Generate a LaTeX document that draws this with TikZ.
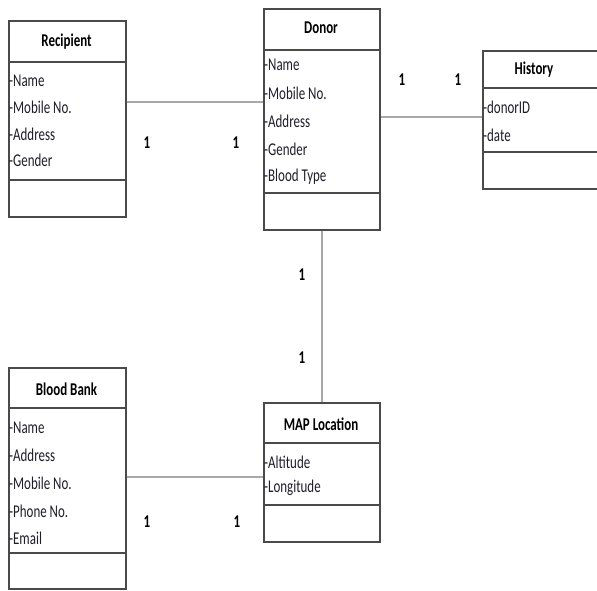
\documentclass[tikz,border=0pt]{standalone}
\usepackage{fontspec}
\setmainfont{Carlito}[FakeStretch=0.72]
\definecolor{boxline}{HTML}{4A4A4A}
\definecolor{linkline}{HTML}{A8A8A8}
\definecolor{attrtext}{HTML}{1E1E2A}
\tikzset{
  classbox/.style={draw=boxline, line width=1.6pt, anchor=north west, inner sep=0pt},
  divider/.style={boxline, line width=1.8pt},
  link/.style={linkline, line width=1.6pt},
  classname/.style={font=\fontsize{18}{20}\selectfont\bfseries, inner sep=0pt},
  attr/.style={font=\fontsize{18}{20}\selectfont, text=attrtext, anchor=west, inner sep=0pt},
  mult/.style={font=\fontsize{18}{20}\selectfont\bfseries, inner sep=0pt}
}
\begin{document}
\begin{tikzpicture}[x=1pt, y=-1pt]
\useasboundingbox (0, 0) rectangle (597, 590);

% Recipient
\node[classbox, minimum width=117pt, minimum height=196pt] (recipient) at (8, 20) {};
\node[classname] (recipient-t) at (66.5, 42) {Recipient};
\draw[divider] (8, 62) -- (125, 62);
\node[attr] (recipient-1) at (9, 81) {-Name};
\node[attr] (recipient-2) at (9, 107.5) {-Mobile No.};
\node[attr] (recipient-3) at (9, 134) {-Address};
\node[attr] (recipient-4) at (9, 160.5) {-Gender};
\draw[divider] (8, 180) -- (125, 180);

% Donor
\node[classbox, minimum width=116pt, minimum height=221pt] (donor) at (263, 8) {};
\node[classname] (donor-t) at (321, 28) {Donor};
\draw[divider] (263, 50) -- (379, 50);
\node[attr] (donor-1) at (264, 65) {-Name};
\node[attr] (donor-2) at (264, 93) {-Mobile No.};
\node[attr] (donor-3) at (264, 121) {-Address};
\node[attr] (donor-4) at (264, 149) {-Gender};
\node[attr] (donor-5) at (264, 177) {-Blood Type};
\draw[divider] (263, 193) -- (379, 193);

% History
\node[classbox, minimum width=130pt, minimum height=138pt] (history) at (482, 50) {};
\node[classname] (history-t) at (534, 70) {History};
\draw[divider] (482, 88) -- (612, 88);
\node[attr] (history-1) at (483, 107) {-donorID};
\node[attr] (history-2) at (483, 135) {-date};
\draw[divider] (482, 152) -- (612, 152);

% Blood Bank
\node[classbox, minimum width=117pt, minimum height=221pt] (bank) at (8, 367) {};
\node[classname] (bank-t) at (66.5, 389) {Blood Bank};
\draw[divider] (8, 408) -- (125, 408);
\node[attr] (bank-1) at (9, 428) {-Name};
\node[attr] (bank-2) at (9, 455) {-Address};
\node[attr] (bank-3) at (9, 483) {-Mobile No.};
\node[attr] (bank-4) at (9, 511) {-Phone No.};
\node[attr] (bank-5) at (9, 538) {-Email};
\draw[divider] (8, 553) -- (125, 553);

% MAP Location
\node[classbox, minimum width=116pt, minimum height=139pt] (map) at (263, 402) {};
\node[classname] (map-t) at (321, 424) {MAP Location};
\draw[divider] (263, 443) -- (379, 443);
\node[attr] (map-1) at (264, 462) {-Altitude};
\node[attr] (map-2) at (264, 488) {-Longitude};
\draw[divider] (263, 505) -- (379, 505);

% links
\coordinate (rd) at (0, 102);
\draw[link] (recipient.east |- rd) -- (donor.west |- rd);
\coordinate (dh) at (0, 117);
\draw[link] (donor.east |- dh) -- (history.west |- dh);
\draw[link] (donor.south) -- (map.north);
\coordinate (bm) at (0, 477);
\draw[link] (bank.east |- bm) -- (map.west |- bm);

% multiplicities
\node[mult] (m-rd1) at (147, 143) {1};
\node[mult] (m-rd2) at (236, 143) {1};
\node[mult] (m-dh1) at (402, 80) {1};
\node[mult] (m-dh2) at (458, 80) {1};
\node[mult] (m-dm1) at (302, 275) {1};
\node[mult] (m-dm2) at (302, 358) {1};
\node[mult] (m-bm1) at (147, 522) {1};
\node[mult] (m-bm2) at (237, 522) {1};
\end{tikzpicture}
\end{document}
